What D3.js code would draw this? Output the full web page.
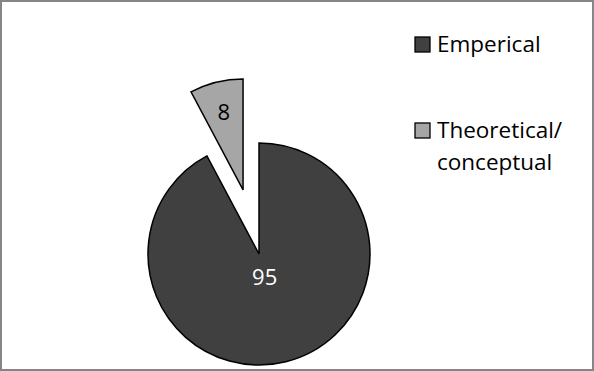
<!DOCTYPE html>
<html>
<head>
<meta charset="utf-8">
<script src="https://cdn.jsdelivr.net/npm/d3@7"></script>
<style>
  html, body { margin: 0; padding: 0; background: #fff; }
  svg { display: block; font-family: "Open Sans", Lato, sans-serif; }
</style>
</head>
<body>
<div id="chart"></div>
<script>
const categories = ["Emperical", "Theoretical/ conceptual"];
const values = [95, 8];
const legendLines = [["Emperical"], ["Theoretical/", "conceptual"]];
const exploded = [false, true];

const width = 594;
const height = 371;
const center = { x: 259, y: 254 };
const radius = 111;
const explodeOffset = 66;

const color = d3.scaleOrdinal().domain(categories).range(["#404040", "#a6a6a6"]);
const labelColor = d3.scaleOrdinal().domain(categories).range(["#ffffff", "#000000"]);

const svg = d3
  .select("#chart")
  .append("svg")
  .attr("width", width)
  .attr("height", height);

// chart frame
svg
  .append("rect")
  .attr("x", 1)
  .attr("y", 1)
  .attr("width", width - 2)
  .attr("height", height - 2)
  .attr("fill", "#fff")
  .attr("stroke", "#868686")
  .attr("stroke-width", 2);

const data = categories.map((c, i) => ({ category: c, value: values[i], exploded: exploded[i] }));

const pie = d3
  .pie()
  .sort(null)
  .value((d) => d.value);

const arc = d3.arc().innerRadius(0).outerRadius(radius);

const g = svg
  .append("g")
  .attr("transform", `translate(${center.x},${center.y})`);

const slices = g
  .selectAll("g.slice")
  .data(pie(data))
  .join("g")
  .attr("class", "slice")
  .attr("transform", (d) => {
    if (!d.data.exploded) return null;
    const mid = (d.startAngle + d.endAngle) / 2;
    return `translate(${Math.sin(mid) * explodeOffset},${-Math.cos(mid) * explodeOffset})`;
  });

slices
  .append("path")
  .attr("d", arc)
  .attr("fill", (d) => color(d.data.category))
  .attr("stroke", "#000")
  .attr("stroke-width", 1.5)
  .attr("stroke-linejoin", "miter");

// data labels
slices
  .append("text")
  .attr("transform", (d) => {
    const mid = (d.startAngle + d.endAngle) / 2;
    const r = d.data.exploded ? radius * 0.72 : radius * 0.21;
    return `translate(${Math.sin(mid) * r},${-Math.cos(mid) * r})`;
  })
  .attr("text-anchor", "middle")
  .attr("dy", "0.36em")
  .attr("fill", (d) => labelColor(d.data.category))
  .style("font-size", "22px")
  .text((d) => d.data.value);

// legend
const legendY = d3.scalePoint().domain(categories).range([44, 130]);

const legend = svg
  .append("g")
  .selectAll("g")
  .data(categories)
  .join("g")
  .attr("transform", (d) => `translate(415,${legendY(d)})`);

legend
  .append("rect")
  .attr("x", 0)
  .attr("y", -7)
  .attr("width", 15)
  .attr("height", 15)
  .attr("fill", (d) => color(d))
  .attr("stroke", "#000")
  .attr("stroke-width", 1.3);

legend
  .append("text")
  .attr("x", 22)
  .attr("y", 7.5)
  .style("font-size", "22.5px")
  .attr("fill", "#000")
  .selectAll("tspan")
  .data((d, i) => legendLines[i])
  .join("tspan")
  .attr("x", 22)
  .attr("dy", (d, i) => (i === 0 ? 0 : 32))
  .text((d) => d);
</script>
</body>
</html>
